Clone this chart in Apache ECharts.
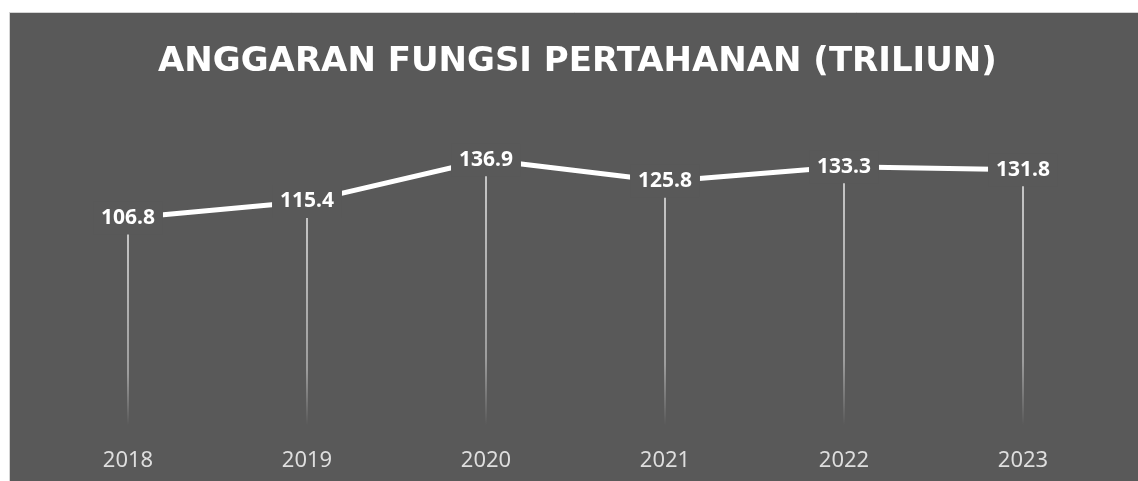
<!DOCTYPE html>
<html>
<head>
<meta charset="utf-8">
<script src="https://cdn.jsdelivr.net/npm/echarts@6/dist/echarts.min.js"></script>
<style>
html,body{margin:0;padding:0;background:#ffffff;}
#chart{width:1138px;height:481px;}
</style>
</head>
<body>
<div id="chart"></div>
<script>
var titleText = 'ANGGARAN FUNGSI PERTAHANAN (TRILIUN)';
var categories = ['2018', '2019', '2020', '2021', '2022', '2023'];
var values = [106.8, 115.4, 136.9, 125.8, 133.3, 131.8];

var chart = echarts.init(document.getElementById('chart'));
var bg = '#595959';
chart.setOption({
  animation: false,
  backgroundColor: '#ffffff',
  graphic: [{
    type: 'rect',
    z: -10,
    silent: true,
    shape: {x: 9.5, y: 12.5, width: 1200, height: 600},
    style: {fill: bg, stroke: '#d4d4d4', lineWidth: 1}
  }],
  title: {
    text: titleText,
    left: 153,
    top: 40,
    textStyle: {
      color: '#ffffff',
      fontFamily: 'DejaVu Sans',
      fontWeight: 'bold',
      fontSize: 34
    }
  },
  grid: {left: 38.5, right: 25.5, top: 115, bottom: 56},
  xAxis: {
    type: 'category',
    data: categories,
    axisLine: {show: false},
    axisTick: {show: false},
    axisLabel: {
      color: '#dedede',
      fontFamily: 'Noto Sans',
      fontSize: 22,
      margin: 25
    }
  },
  yAxis: {
    type: 'value',
    min: 0,
    max: 160,
    interval: 20,
    show: false,
    splitLine: {show: false}
  },
  series: [
    {
      type: 'bar',
      data: values,
      barWidth: 1.5,
      silent: true,
      z: 1,
      itemStyle: {
        color: new echarts.graphic.LinearGradient(0, 0, 0, 1, [
          {offset: 0, color: 'rgba(255,255,255,0.9)'},
          {offset: 0.75, color: 'rgba(255,255,255,0.55)'},
          {offset: 1, color: 'rgba(255,255,255,0)'}
        ])
      }
    },
    {
      type: 'line',
      data: values,
      z: 3,
      symbol: 'circle',
      symbolSize: 1,
      itemStyle: {color: '#ffffff'},
      lineStyle: {color: '#ffffff', width: 5},
      label: {
        show: true,
        position: 'inside',
        color: '#ffffff',
        fontFamily: 'Noto Sans',
        fontWeight: 'bold',
        fontSize: 21,
        backgroundColor: bg,
        padding: [6, 8, 6, 8],
        formatter: function (p) { return p.value.toFixed(1); }
      }
    }
  ]
});
</script>
</body>
</html>
